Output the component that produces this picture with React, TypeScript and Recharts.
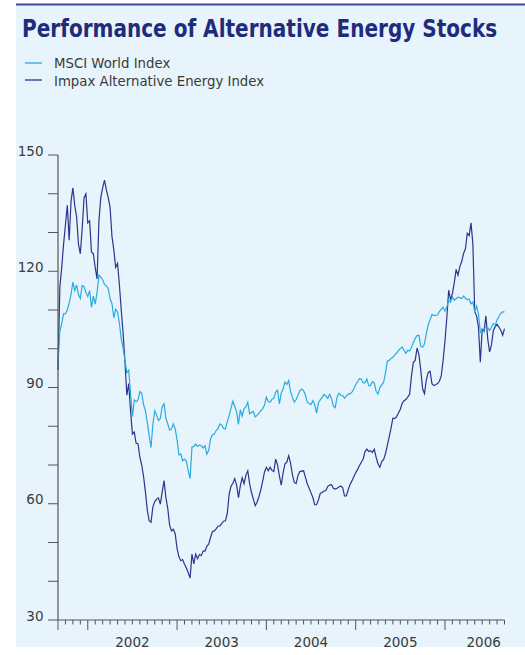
import React from 'react';
import { LineChart, Line, XAxis, YAxis } from 'recharts';

const W = 525;
const H = 655;

const PANEL_BG = '#e8f4fb';
const TITLE_COLOR = '#1f2c7c';
const MSCI_COLOR = '#29abe2';
const IMPAX_COLOR = '#2a358f';
const AXIS_COLOR = '#555555';
const TEXT_COLOR = '#3a3a3a';
const FONT = "'DejaVu Sans', 'Liberation Sans', sans-serif";

// weekly samples, x measured in months from 1 Sep 2001
const STEP = 0.25;

const impax2001 = [94.5, 116, 121, 127, 132, 137, 128, 138, 141.5, 137, 134, 127, 124.5, 131, 139, 140];
const impax2002 = [
  132.5, 133, 125, 124.5, 121, 118, 133, 139, 141.5, 143.5, 141, 139, 136.5, 129, 125.5, 121,
  122, 116.5, 110, 104, 96.5, 88, 91, 84, 78, 78.5, 75.6, 75.5, 72, 70, 67, 63,
  58.3, 55.6, 55.2, 59.2, 60.5, 61.2, 61.5, 59.9, 63, 66, 61.6, 58.8, 54.5, 53, 53.4, 52.2,
];
const impax2003 = [
  48.5, 46.3, 45.3, 45.6, 44.4, 43.4, 42.2, 40.8, 47, 44.5, 47, 45.8, 46.9, 46.6, 47.8, 47.8,
  49, 49.6, 51.3, 52.8, 53, 53.5, 54.2, 54.3, 54.9, 55.5, 55.6, 57.5, 62.5, 64.5, 65.3, 66.5,
  64.8, 61.6, 64.6, 66.7, 65.2, 67.4, 68.5, 65.2, 62.9, 61.2, 59.5, 60.4, 61.8, 63.6, 65.8, 68.2,
];
const impax2004 = [
  69.4, 68.5, 69.4, 68.6, 68.3, 71.5, 70, 67.2, 64.8, 68, 70.3, 70.7, 72.4, 70.5, 67.5, 65.5,
  65.2, 67.3, 68.3, 68.4, 68.5, 66.8, 65.1, 64, 62.8, 61.6, 59.7, 59.8, 61, 62.7, 62.9, 63.3,
  63.4, 64.5, 64.8, 64.9, 64, 63.8, 64, 64.3, 64.6, 64.2, 62, 62, 63.6, 65, 65.9, 67,
];
const impax2005 = [
  68, 68.8, 69.8, 70.7, 71.5, 73.4, 74.1, 73.5, 73.7, 73.2, 74.1, 72, 70.3, 69.4, 70.9, 71.4,
  72.9, 75, 77.2, 79.5, 82.1, 82, 82.5, 83.4, 84.4, 85.9, 86.6, 86.9, 87.5, 88.3, 93, 96.5,
  97, 100.2, 98.5, 94.5, 89.6, 88.4, 92, 93.9, 94.2, 91, 90.5, 90.7, 91, 91.6, 93, 97,
];
const impax2006 = [
  102, 108, 115.1, 112.6, 114.2, 117, 120.5, 119, 121.2, 122.5, 124.6, 125.8, 129.8, 129.2, 132.5, 127,
  109.5, 108.5, 105.6, 96.5, 105, 104.5, 108.5, 102.5, 99.2, 101, 104.7, 105.7, 106.3, 105.6, 104.8, 103.5,
  105.2,
];

const msci2001 = [96.2, 104.5, 106.5, 109, 109, 110, 111.8, 114, 117.2, 115, 116.5, 114, 113, 116.3, 116, 114.5];
const msci2002 = [
  113.5, 115, 110.7, 113.6, 111.5, 114.5, 119, 118.5, 117.8, 116.6, 116.2, 115.5, 112.9, 111.7, 108, 110.2,
  109.5, 106.6, 102.5, 100.1, 97, 93.8, 94.5, 88.5, 82.5, 86.8, 86.3, 86.8, 89, 88.5, 85.6, 84,
  81, 77.5, 74.5, 80.5, 84, 82.8, 81.5, 82, 85, 85.8, 82, 80.6, 79, 79.3, 80.6, 79.3,
];
const msci2003 = [
  76.5, 72.6, 72.8, 71.1, 71.5, 71, 68.5, 66.5, 74.6, 74.8, 75.4, 74.8, 75.2, 75, 74.4, 75,
  72.8, 73.8, 76.7, 77.8, 78, 78.9, 79.4, 80.6, 80.3, 79.5, 79.3, 81.2, 82.8, 84.7, 86.5, 85.1,
  83.7, 80.5, 84.3, 82.6, 84.6, 85, 86.2, 83.2, 83.6, 83.8, 82.4, 82.8, 83.4, 84, 84.5, 85.5,
];
const msci2004 = [
  87.5, 86.4, 86.2, 87, 87.2, 88.8, 89.3, 85.8, 88.6, 89.6, 91.4, 90.8, 91.8, 89, 87.5, 86.2,
  86.9, 88, 89.2, 89.6, 89.2, 88, 86.2, 85.9, 85.6, 86.6, 85.6, 83.4, 86.1, 86.8, 87.5, 88.2,
  87.8, 87.2, 88.2, 87.2, 85.2, 84.8, 87.5, 88.5, 88, 87.9, 87.2, 87.8, 88.3, 88.4, 88.8, 89.6,
];
const msci2005 = [
  90.7, 91.5, 92.3, 92.2, 91.2, 91.2, 92.2, 90.5, 90.5, 91.5, 91.2, 89, 88.3, 90, 90.7, 91.3,
  93.7, 96.8, 97, 97.5, 97.8, 98.4, 98.9, 99.5, 100.1, 100.4, 99.6, 98.8, 99.6, 99.4, 100.3, 101.6,
  102.7, 103.4, 103.5, 100.6, 100.4, 101.3, 104, 106.2, 107.5, 108.8, 108.6, 108.6, 108.7, 109.6, 110.2, 110.7,
];
const msci2006 = [
  109.7, 110.8, 112.5, 112, 113.4, 112.5, 112.9, 113.3, 113.2, 112.9, 113.6, 113, 112.7, 112.8, 111.6, 112.1,
  109.5, 111, 109, 104.3, 103.9, 105.2, 105.5, 105.4, 104.7, 105.6, 106.5, 106.1, 107.4, 108.4, 109.1, 109.5,
  109.5,
];

const impax = [...impax2001, ...impax2002, ...impax2003, ...impax2004, ...impax2005, ...impax2006];
const msci = [...msci2001, ...msci2002, ...msci2003, ...msci2004, ...msci2005, ...msci2006];

const data = impax.map((v, i) => ({ m: i * STEP, impax: v, msci: msci[i] }));

// axis furniture
const monthTicks = Array.from({ length: 61 }, (_, i) => i);
const yearStarts = [0, 4, 16, 28, 40, 52];
const yearLabels = ['2002', '2003', '2004', '2005', '2006'];
const yearLabelAt = [10, 22, 34, 46, 57.2];
const valueTicks = [30, 40, 50, 60, 70, 80, 90, 100, 110, 120, 130, 140, 150];
const valueLabels = [30, 60, 90, 120, 150];

const legendItems = [
  { name: 'MSCI World Index', color: MSCI_COLOR },
  { name: 'Impax Alternative Energy Index', color: IMPAX_COLOR },
];

function MonthTick({ x, y, payload }: any) {
  const v = payload.value;
  const li = yearLabelAt.indexOf(v);
  const isMonth = Number.isInteger(v);
  return (
    <g>
      {isMonth && (
        <line
          x1={x}
          x2={x}
          y1={y}
          y2={y + (yearStarts.includes(v) ? 10 : 4.5)}
          stroke={AXIS_COLOR}
          strokeWidth={1}
        />
      )}
      {li >= 0 && (
        <text x={x} y={y + 27} textAnchor="middle" fontSize={13.5} fontFamily={FONT} fill={TEXT_COLOR}>
          {yearLabels[li]}
        </text>
      )}
    </g>
  );
}

function ValueTick({ x, y, payload }: any) {
  const v = payload.value;
  const label = valueLabels.includes(v);
  return (
    <g>
      <line x1={x - 10} x2={x} y1={y} y2={y} stroke={AXIS_COLOR} strokeWidth={1} />
      {label && (
        <text x={x - 14.5} y={y + 0.5} textAnchor="end" fontSize={13.5} fontFamily={FONT} fill={TEXT_COLOR}>
          {v}
        </text>
      )}
    </g>
  );
}

export default function App() {
  return (
    <div style={{ position: 'absolute', left: 0, top: 0, width: W, height: H, background: '#fff' }}>
      <svg width={W} height={H} style={{ position: 'absolute', left: 0, top: 0 }}>
        <rect x={16} y={5} width={W - 16} height={642} fill={PANEL_BG} />
        <rect x={16} y={3.5} width={W - 16} height={2} fill="#3b4a98" />
        <g transform="translate(22 36.5) scale(0.8 1)">
          <text
            x={0}
            y={0}
            fontSize={25}
            fontWeight="bold"
            fill={TITLE_COLOR}
            fontFamily="'DejaVu Sans Condensed', 'Liberation Sans Narrow', 'Liberation Sans', sans-serif"
            textLength={594}
            lengthAdjust="spacingAndGlyphs"
          >
            Performance of Alternative Energy Stocks
          </text>
        </g>
        {legendItems.map((it, i) => (
          <g key={it.name}>
            <line x1={25} x2={42} y1={63 + i * 17} y2={63 + i * 17} stroke={it.color} strokeWidth={1.3} />
            <text x={54} y={68 + i * 17.7} fontSize={13.3} fontFamily={FONT} fill={TEXT_COLOR}>
              {it.name}
            </text>
          </g>
        ))}
      </svg>
      <div style={{ position: 'absolute', left: 0, top: 0 }}>
        <LineChart width={W} height={H} data={data} margin={{ top: 155, right: 20.5, left: 0, bottom: 0 }}>
          <XAxis
            dataKey="m"
            type="number"
            domain={[0, 60]}
            ticks={[...monthTicks, 57.2]}
            interval={0}
            height={35}
            tickLine={false}
            tickSize={0}
            tickMargin={0}
            axisLine={{ stroke: AXIS_COLOR, strokeWidth: 1.2 }}
            tick={<MonthTick />}
          />
          <YAxis
            type="number"
            domain={[30, 150]}
            ticks={valueTicks}
            interval={0}
            width={58}
            tickLine={false}
            tickSize={0}
            tickMargin={0}
            axisLine={{ stroke: AXIS_COLOR, strokeWidth: 1.2 }}
            tick={<ValueTick />}
          />
          <Line
            type="linear"
            dataKey="impax"
            stroke={IMPAX_COLOR}
            strokeWidth={1.2}
            dot={false}
            isAnimationActive={false}
          />
          <Line
            type="linear"
            dataKey="msci"
            stroke={MSCI_COLOR}
            strokeWidth={1.2}
            dot={false}
            isAnimationActive={false}
          />
        </LineChart>
      </div>
    </div>
  );
}
